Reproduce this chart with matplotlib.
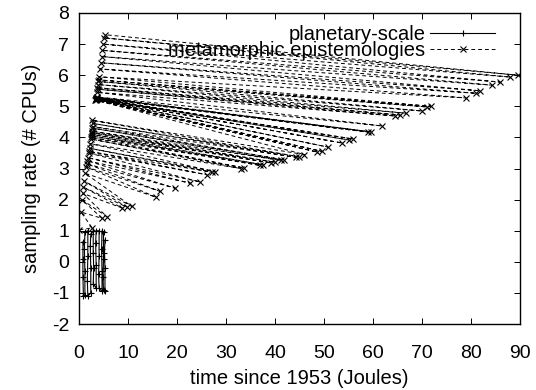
import matplotlib
matplotlib.use("Agg")
import matplotlib.pyplot as plt

plt.rcParams['font.family'] = ['Liberation Sans', 'DejaVu Sans']
plt.rcParams['axes.unicode_minus'] = False

# planetary-scale: vertical zig-zags clustered near the origin
planetary_x = [0.8, 0.8, 0.8, 0.9, 1.2, 1.2, 1.1, 1.2, 1.8, 1.8, 1.7, 1.8, 2.4, 2.4, 2.3,
               2.4, 2.9, 2.9, 3.0, 2.9, 3.5, 3.5, 3.4, 3.5, 4.1, 4.1, 4.0, 4.1, 4.7, 4.7,
               4.6, 4.7, 5.0, 5.0, 4.9, 5.0, 5.3, 5.3, 5.2, 5.3]
planetary_y = [0.65, 0.1, -0.5, -1.1, -1.05, -0.3, 0.4, 0.95, 1.0, 0.2, -0.6, -1.1, -1.0, -0.2,
               0.5, 0.9, 1.0, 0.3, -0.2, -0.7, -0.85, -0.1, 0.6, 1.0, 1.0, 0.2, -0.4, -0.85,
               -0.95, -0.3, 0.4, 1.0, 0.95, 0.1, -0.5, -0.9, -0.95, -0.2, 0.3, 0.7]

# metamorphic epistemologies: points near the y axis ...
near_x = [0.1, 0.4, 0.6, 0.8, 0.9, 1.0,
          1.2, 1.5, 1.6, 1.7, 1.8, 2.0, 2.1, 2.2,
          2.3, 2.4, 2.5, 2.6, 2.6, 2.7, 2.7, 2.7, 2.8, 2.8, 2.7,
          3.3, 3.4, 3.5, 3.4, 3.5, 3.6, 3.5, 3.6, 3.7,
          3.7, 3.8, 3.6, 3.9, 3.9, 4.0, 4.0,
          4.3, 4.5, 4.6, 4.7, 4.9, 5.1, 5.4]
near_y = [1.03, 1.6, 2.0, 2.2, 2.4, 2.6,
          2.85, 3.05, 3.15, 3.25, 3.35, 3.5, 3.55, 3.65,
          3.8, 3.95, 4.0, 4.05, 4.1, 4.15, 4.2, 4.3, 4.35, 4.45, 4.55,
          5.2, 5.21, 5.22, 5.23, 5.24, 5.25, 5.26, 5.28, 5.3,
          5.45, 5.55, 5.6, 5.7, 5.8, 5.85, 5.95,
          6.2, 6.4, 6.6, 6.8, 7.0, 7.2, 7.3]
# ... and their partners far to the right
far_x = [2.7, 4.7, 5.7, 8.8, 9.8, 10.8,
         15.7, 16.5, 19.6, 22.7, 24.7, 26.1, 27.2, 27.8,
         33.0, 33.6, 37.0, 37.6, 39.2, 40.0, 41.2, 41.8, 44.2, 44.8, 46.0,
         48.6, 49.6, 50.8, 53.7, 55.0, 55.9, 59.0, 59.6, 61.8,
         64.5, 65.5, 66.7, 70.0, 71.0, 71.8, 79.0,
         81.0, 81.8, 84.3, 85.9, 88.0, 89.6]
far_y = [1.09, 1.4, 1.45, 1.73, 1.76, 1.78,
         2.08, 2.27, 2.37, 2.53, 2.57, 2.8, 2.88, 2.9,
         3.0, 3.02, 3.1, 3.12, 3.18, 3.2, 3.26, 3.28, 3.36, 3.38, 3.45,
         3.53, 3.55, 3.69, 3.82, 3.92, 3.95, 4.17, 4.18, 4.37,
         4.69, 4.72, 4.78, 4.85, 4.98, 5.0, 5.27,
         5.42, 5.5, 5.68, 5.78, 5.94, 6.0]

meta_x, meta_y = [], []
for i in range(len(near_x)):
    meta_x.append(near_x[i])
    meta_y.append(near_y[i])
    if i < len(far_x):
        meta_x.append(far_x[i])
        meta_y.append(far_y[i])

fig = plt.figure(figsize=(5.36, 3.90), dpi=100)
ax = fig.add_axes([0.1474, 0.169, 0.8228, 0.7977])

ax.plot(planetary_x, planetary_y, color='black', lw=0.8, marker='+', ms=5,
        mew=0.8, label='planetary-scale')
ax.plot(meta_x, meta_y, color='black', lw=0.7, ls=(0, (4, 3)), marker='x', ms=4,
        mew=0.8, label='metamorphic epistemologies')

ax.set_xlim(0, 90)
ax.set_ylim(-2, 8)
ax.set_xticks(range(0, 91, 10))
ax.set_yticks(range(-2, 9))
ax.tick_params(direction='in', length=4.5, width=0.7, labelsize=14,
               top=True, right=True)
ax.tick_params(axis='x', pad=15)
ax.tick_params(axis='y', pad=7)
for s in ax.spines.values():
    s.set_linewidth(1.0)

ax.set_xlabel('time since 1953 (Joules)', fontsize=14.5, labelpad=5)
ax.set_ylabel('sampling rate (# CPUs)', fontsize=14.5, labelpad=8)

ax.legend(loc='upper right', bbox_to_anchor=(0.943, 0.96), frameon=False,
          markerfirst=False, fontsize=14.5, handlelength=3.2, handletextpad=0.25,
          labelspacing=-0.15, borderaxespad=0, borderpad=0)

fig.savefig('out.png', dpi=100)
